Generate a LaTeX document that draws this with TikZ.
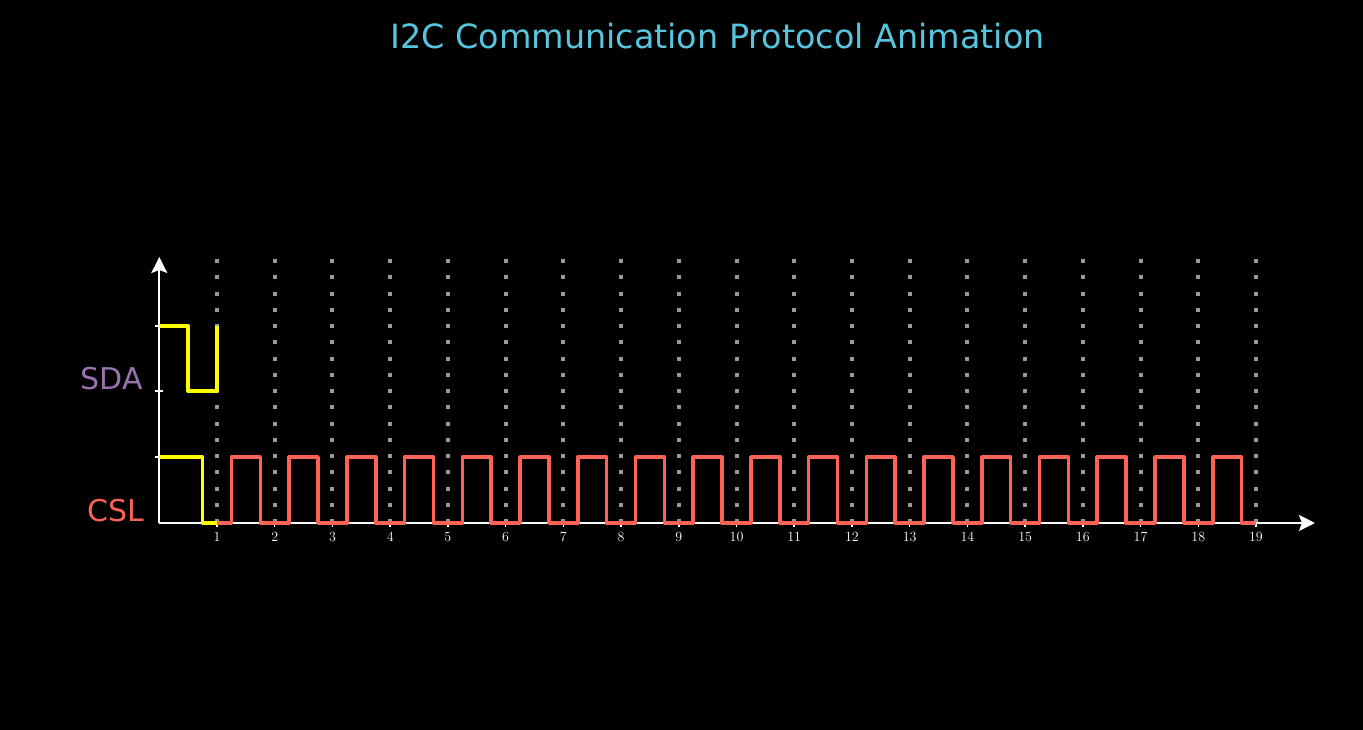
\documentclass[tikz,border=0pt]{standalone}
\usepackage{fontspec}
\newfontfamily\dejavu{DejaVu Sans}
\usetikzlibrary{arrows.meta}
\definecolor{mblue}{HTML}{58C4DD}
\definecolor{mpurple}{HTML}{9A72AC}
\definecolor{mred}{HTML}{FC6255}
\definecolor{myellow}{HTML}{FFFF00}
\definecolor{mgray}{HTML}{999999}
\tikzset{
  axisline/.style={draw=white, line width=2pt, -{Stealth[length=16pt,width=16pt,inset=3pt]}},
  axtick/.style={draw=white, line width=1.5pt},
  gridline/.style={draw=mgray, line width=4pt, dash pattern=on 4pt off 12.25pt},
  sig/.style={line width=3.6pt, line join=round},
  ticklab/.style={anchor=base, text=white, inner sep=0pt, font=\fontsize{14}{14}\selectfont},
  siglab/.style={anchor=base east, inner sep=0pt, font=\dejavu\fontsize{30}{30}\selectfont},
}
\begin{document}
\begin{tikzpicture}[x=57.72pt, y=-1pt]
\fill[black] (-2.760,0) rectangle (20.854,730);
\useasboundingbox (-2.760,0) rectangle (20.854,730);
% title
\node[anchor=base, inner sep=0pt, text=mblue, font=\dejavu\fontsize{33.4}{40}\selectfont] (title) at (9.671,48.3) {I2C Communication Protocol Animation};
% grid lines
\foreach \i in {1,...,19} {
  \coordinate (g\i top) at (\i,259);
  \coordinate (g\i bot) at (\i,523);
  \draw[axtick] (\i,519) -- (\i,527);
  \draw[gridline] (g\i top) -- (g\i bot);
}
% axes
\coordinate (O) at (0,523);
\coordinate (xend) at (20.022,523);
\coordinate (yend) at (0,257);
\draw[axisline] (O) -- (xend);
\draw[axisline] (O) -- (yend);
\foreach \yy in {326,391,457} {
  \draw[axtick] (-0.069,\yy) -- (0.069,\yy);
}
% tick labels
\foreach \i in {1,...,19} {
  \node[ticklab] (t\i) at (\i,541) {\i};
}
% labels
\node[siglab, text=mpurple] (sda) at (-0.2824,389) {SDA};
\node[siglab, text=mred] (csl) at (-0.265,521.7) {CSL};
% SDA signal
\draw[sig, myellow] (0,326) -- (0.5,326) -- (0.5,391) -- (1,391) -- (1,326);
% CSL signal, start segment
\draw[sig, myellow] (0,457) -- (0.75,457) -- (0.75,523) -- (1,523);
% CSL clock
\draw[sig, mred] (1,523)
  \foreach \k in {1,...,18} { -- (\k+0.25,523) -- (\k+0.25,457) -- (\k+0.75,457) -- (\k+0.75,523) }
  -- (19,523);
\end{tikzpicture}
\end{document}
